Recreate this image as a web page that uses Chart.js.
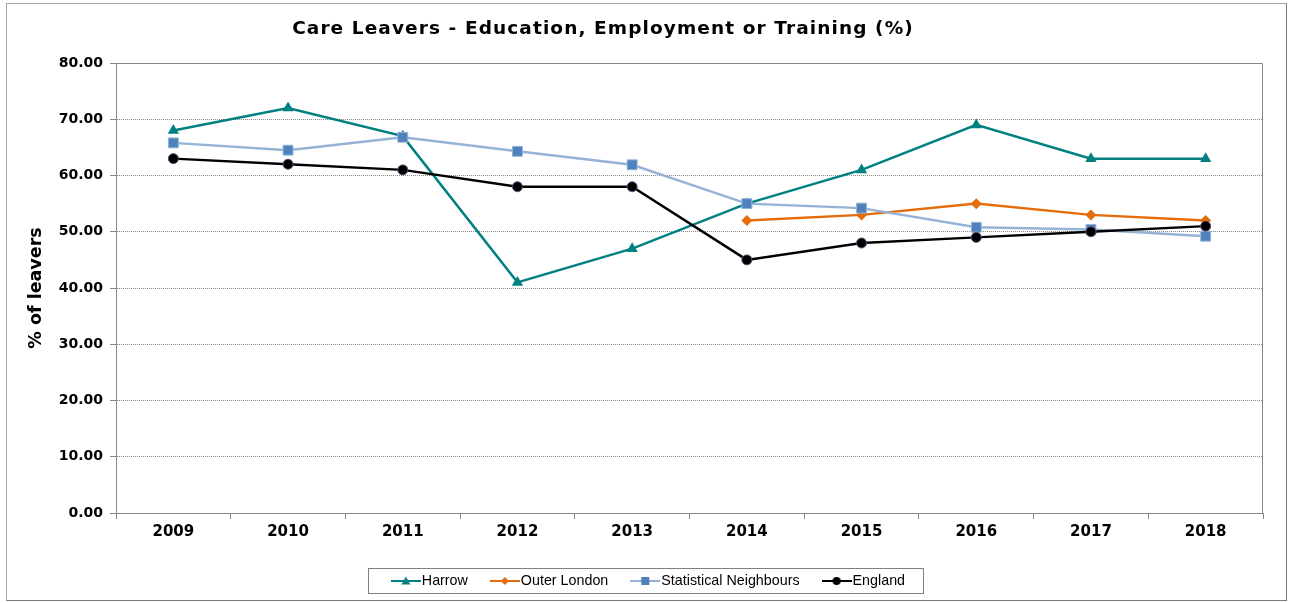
<!DOCTYPE html>
<html>
<head>
<meta charset="utf-8">
<script src="https://cdn.jsdelivr.net/npm/chart.js@4/dist/chart.umd.min.js"></script>
<style>
  html, body { margin: 0; padding: 0; background: #fff; }
  #wrap { position: relative; width: 1293px; height: 603px; }
  #frame { position: absolute; left: 6px; top: 3px; width: 1279px; height: 596px;
           border: 1px solid #7a7a7a; border-left-color: #a6a6a6; border-top-color: #a6a6a6; }
  #title { position: absolute; left: 0; top: 16px; width: 1206px; text-align: center;
           font: bold 18.5px "DejaVu Sans"; letter-spacing: 1.1px; color: #000; line-height: 24px; }
  canvas { position: absolute; left: 0; top: 0; }
</style>
</head>
<body>
<div id="wrap">
  <div id="frame"></div>
  <canvas id="myChart" width="1293" height="603"></canvas>
  <div id="title">Care Leavers - Education, Employment or Training (%)</div>
</div>
<script>
// 年度（カテゴリ）
var years = ["2009", "2010", "2011", "2012", "2013", "2014", "2015", "2016", "2017", "2018"];

// 各系列の値（%）
var harrow = [68, 72, 67, 41, 47, 55, 61, 69, 63, 63];
var outerLondon = [null, null, null, null, null, 52, 53, 55, 53, 52];
var statNeighbours = [65.8, 64.5, 66.8, 64.3, 61.9, 55, 54.2, 50.8, 50.4, 49.2];
var england = [63, 62, 61, 58, 58, 45, 48, 49, 50, 51];

var seriesNames = ["Harrow", "Outer London", "Statistical Neighbours", "England"];
var yTicks = [0, 10, 20, 30, 40, 50, 60, 70, 80];

var GRAY = "#868686";
var LEG_FONT = 14.3;
var LEG_PAD = 28.15;
var LEG_BOX = 17.7;

// 凡例用の小さな線＋マーカー画像
function legendIcon(lineColor, markColor, shape) {
  var c = document.createElement("canvas");
  c.width = 30; c.height = 14;
  var g = c.getContext("2d");
  g.strokeStyle = lineColor;
  g.lineWidth = 2;
  g.beginPath(); g.moveTo(0, 7); g.lineTo(30, 7); g.stroke();
  g.fillStyle = markColor;
  g.beginPath();
  if (shape === "triangle") {
    g.moveTo(15, 2.5); g.lineTo(19.5, 10.5); g.lineTo(10.5, 10.5); g.closePath();
  } else if (shape === "diamond") {
    g.moveTo(15, 3); g.lineTo(19, 7); g.lineTo(15, 11); g.lineTo(11, 7); g.closePath();
  } else if (shape === "square") {
    g.rect(11, 3, 8, 8);
  } else {
    g.arc(15, 7, 4, 0, Math.PI * 2);
  }
  g.fill();
  return c;
}

var icons = [
  legendIcon("#008080", "#008080", "triangle"),
  legendIcon("#E46C0A", "#E46C0A", "diamond"),
  legendIcon("#95B3D7", "#4F81BD", "square"),
  legendIcon("#000000", "#000000", "circle")
];

// プロット領域の上・右の枠線と凡例の枠
var framePlugin = {
  id: "framePlugin",
  beforeDatasetsDraw: function(chart) {
    var a = chart.chartArea, ctx = chart.ctx;
    ctx.save();
    ctx.strokeStyle = GRAY;
    ctx.lineWidth = 1;
    ctx.beginPath();
    ctx.moveTo(Math.round(a.left) + 0.5, Math.round(a.top) + 0.5);
    ctx.lineTo(Math.round(a.right) - 0.5, Math.round(a.top) + 0.5);
    ctx.lineTo(Math.round(a.right) - 0.5, Math.round(a.bottom));
    ctx.stroke();
    ctx.restore();
  },
  afterDraw: function(chart) {
    var lg = chart.legend, ctx = chart.ctx;
    var hb = lg.legendHitBoxes;
    if (!hb || !hb.length) return;
    var last = hb[hb.length - 1];
    var left = Math.round(hb[0].left + LEG_BOX / 2 - 15 - 23);
    var right = Math.round(last.left + last.width + 18);
    var cy = lg.top + LEG_PAD + LEG_FONT / 2;
    var top = Math.round(cy - 13);
    var bottom = Math.round(cy + 12);
    ctx.save();
    ctx.strokeStyle = "#808080";
    ctx.lineWidth = 1;
    ctx.strokeRect(left + 0.5, top + 0.5, right - left, bottom - top);
    ctx.restore();
  }
};

var ctx = document.getElementById("myChart").getContext("2d");
var myChart = new Chart(ctx, {
  type: "line",
  data: {
    labels: years,
    datasets: [
      {
        label: seriesNames[0],
        data: harrow,
        borderColor: "#008080",
        backgroundColor: "#008080",
        borderWidth: 2.5,
        pointStyle: "triangle",
        pointRadius: 6.5,
        pointBorderWidth: 0,
        order: 4
      },
      {
        label: seriesNames[1],
        data: outerLondon,
        borderColor: "#E46C0A",
        backgroundColor: "#E46C0A",
        borderWidth: 2.5,
        pointStyle: "rectRot",
        pointRadius: 5.5,
        pointBorderWidth: 0,
        order: 3
      },
      {
        label: seriesNames[2],
        data: statNeighbours,
        borderColor: "#95B3D7",
        backgroundColor: "#4F81BD",
        pointBorderColor: "#95B3D7",
        borderWidth: 2.5,
        pointStyle: "rect",
        pointRadius: 7,
        pointBorderWidth: 1,
        order: 2
      },
      {
        label: seriesNames[3],
        data: england,
        borderColor: "#000000",
        backgroundColor: "#000000",
        pointBorderColor: "#604A7B",
        borderWidth: 2.5,
        pointStyle: "circle",
        pointRadius: 5,
        pointBorderWidth: 1,
        order: 1
      }
    ]
  },
  options: {
    responsive: false,
    animation: false,
    devicePixelRatio: 1,
    layout: { padding: { left: 20, right: 11, top: 63, bottom: 4.85 } },
    elements: { line: { tension: 0 } },
    plugins: {
      tooltip: { enabled: false },
      title: { display: false },
      legend: {
        position: "bottom",
        labels: {
          usePointStyle: true,
          pointStyleWidth: LEG_BOX,
          padding: LEG_PAD,
          color: "#000",
          font: { family: "Liberation Sans", size: LEG_FONT },
          generateLabels: function(chart) {
            return chart.data.datasets.map(function(ds, i) {
              return {
                text: ds.label,
                datasetIndex: i,
                pointStyle: icons[i],
                fillStyle: "transparent",
                strokeStyle: "transparent",
                lineWidth: 0,
                fontColor: "#000",
                hidden: false
              };
            });
          },
          sort: function(a, b) { return a.datasetIndex - b.datasetIndex; }
        }
      }
    },
    scales: {
      x: {
        offset: true,
        afterFit: function(s) { s.height = 32.7; },
        grid: { offset: true, drawOnChartArea: false, color: GRAY, tickColor: GRAY, tickLength: 6 },
        border: { color: GRAY, width: 1 },
        ticks: { color: "#000", padding: 4, font: { family: "DejaVu Sans", size: 15, weight: "bold" } }
      },
      y: {
        min: 0,
        max: 80,
        afterFit: function(s) { s.width = 96; },
        afterBuildTicks: function(s) { s.ticks = yTicks.map(function(v) { return { value: v }; }); },
        title: {
          display: true,
          text: "% of leavers",
          color: "#000",
          padding: { top: 6, bottom: 0 },
          font: { family: "DejaVu Sans", size: 17.5, weight: "bold" }
        },
        grid: { color: GRAY, tickColor: GRAY, tickLength: 6, lineWidth: 1 },
        border: { color: GRAY, width: 1, dash: [1, 1] },
        ticks: {
          color: "#000",
          padding: 7,
          font: { family: "DejaVu Sans", size: 14, weight: "bold" },
          callback: function(v) { return Number(v).toFixed(2); }
        }
      },
      y2: {
        position: "right",
        afterFit: function(s) { s.width = 19; },
        grid: { display: false },
        border: { display: false },
        ticks: { display: false }
      }
    }
  },
  plugins: [framePlugin]
});
</script>
</body>
</html>
